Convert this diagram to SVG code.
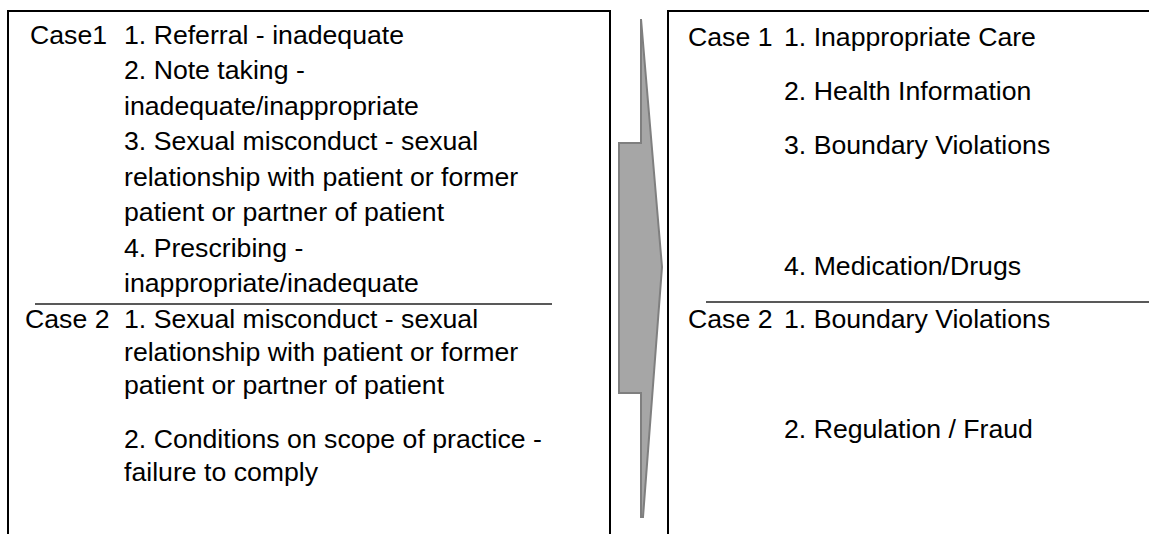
<svg xmlns="http://www.w3.org/2000/svg" width="1149" height="534" viewBox="0 0 1149 534">
  <style>
    .panel { fill: #ffffff; stroke: #000000; stroke-width: 2; }
    .rule { stroke: #595959; stroke-width: 2; }
    .txt { font-family: "Liberation Sans", Arial, sans-serif; font-size: 26.67px; fill: #000000; }
    .shift { fill: #a6a6a6; stroke: #7f7f7f; stroke-width: 2; stroke-linejoin: miter; }
  </style>
  <rect width="1149" height="534" fill="#ffffff"/>

  <!-- Left panel: original complaint categories -->
  <g id="before">
    <rect class="panel" x="8" y="11" width="602" height="540"/>
    <line class="rule" x1="35" y1="304" x2="552" y2="304"/>
    <g class="txt">
      <text x="30" y="44">Case1</text>
      <text x="124" y="44">1. Referral - inadequate</text>
      <text x="124" y="79">2. Note taking -</text>
      <text x="124" y="114.5">inadequate/inappropriate</text>
      <text x="124" y="150">3. Sexual misconduct - sexual</text>
      <text x="124" y="185.5">relationship with patient or former</text>
      <text x="124" y="221">patient or partner of patient</text>
      <text x="124" y="256.5">4. Prescribing -</text>
      <text x="124" y="292">inappropriate/inadequate</text>
      <text x="25" y="328">Case 2</text>
      <text x="124" y="328">1. Sexual misconduct - sexual</text>
      <text x="124" y="361">relationship with patient or former</text>
      <text x="124" y="394">patient or partner of patient</text>
      <text x="124" y="448">2. Conditions on scope of practice -</text>
      <text x="124" y="481">failure to comply</text>
    </g>
  </g>

  <!-- Mapping arrow -->
  <g id="connectors">
    <polygon class="shift" points="641,19 662,267 643,517 641,517 641,393 619,393 619,143 641,143"/>
  </g>

  <!-- Right panel: recoded categories -->
  <g id="after">
    <rect class="panel" x="668" y="11" width="500" height="540"/>
    <line class="rule" x1="706" y1="302" x2="1149" y2="302"/>
    <g class="txt">
      <text x="688" y="46">Case 1</text>
      <text x="784" y="46">1. Inappropriate Care</text>
      <text x="784" y="100">2. Health Information</text>
      <text x="784" y="154">3. Boundary Violations</text>
      <text x="784" y="275">4. Medication/Drugs</text>
      <text x="688" y="328">Case 2</text>
      <text x="784" y="328">1. Boundary Violations</text>
      <text x="784" y="438">2. Regulation / Fraud</text>
    </g>
  </g>
</svg>
